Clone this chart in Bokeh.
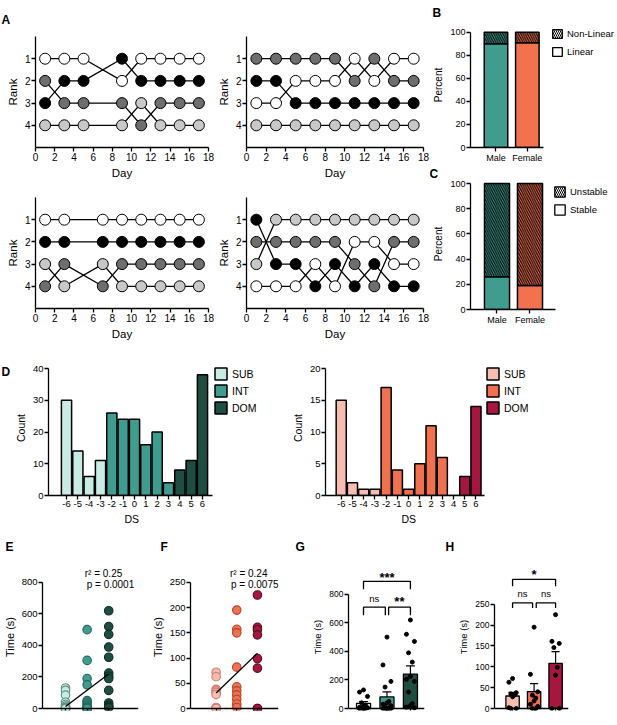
import numpy as np
from bokeh.plotting import figure
from bokeh.models import Range1d, FixedTicker, Label, Legend, LegendItem, Title
from bokeh.layouts import row, column
from bokeh.embed import file_html
from bokeh.resources import INLINE

FONT = "Liberation Sans"

# ---------------- data ----------------
A_DAY_TICKS = [0, 2, 4, 6, 8, 10, 12, 14, 16, 18]
A_RANK_TICKS = [1, 2, 3, 4]
A_FILLS = ["white", "black", "#6e6e6e", "#c8c8c8"]

A1_DAYS = [1, 3, 5, 9, 11, 13, 15, 17]
A1_WHITE = [1, 1, 1, 2, 1, 1, 1, 1]
A1_BLACK = [3, 2, 2, 1, 2, 2, 2, 2]
A1_DARK = [2, 3, 3, 3, 4, 3, 3, 3]
A1_LIGHT = [4, 4, 4, 4, 3, 4, 4, 4]

A2_DAYS = [1, 3, 5, 7, 9, 11, 13, 15, 17]
A2_WHITE = [3, 3, 2, 2, 2, 1, 2, 1, 1]
A2_BLACK = [2, 2, 3, 3, 3, 3, 3, 3, 3]
A2_DARK = [1, 1, 1, 1, 1, 2, 1, 2, 2]
A2_LIGHT = [4, 4, 4, 4, 4, 4, 4, 4, 4]

A3_DAYS = [1, 3, 7, 9, 11, 13, 15, 17]
A3_WHITE = [1, 1, 1, 1, 1, 1, 1, 1]
A3_BLACK = [2, 2, 2, 2, 2, 2, 2, 2]
A3_DARK = [4, 3, 4, 3, 3, 3, 3, 3]
A3_LIGHT = [3, 4, 3, 4, 4, 4, 4, 4]

A4_DAYS = [1, 3, 5, 7, 9, 11, 13, 15, 17]
A4_WHITE = [4, 4, 4, 3, 4, 2, 2, 3, 3]
A4_BLACK = [1, 3, 3, 4, 3, 4, 3, 4, 4]
A4_DARK = [2, 2, 2, 2, 2, 3, 4, 2, 2]
A4_LIGHT = [3, 1, 1, 1, 1, 1, 1, 1, 1]

SEXES = ["Male", "Female"]
SEX_X = [1, 2]
SEX_COLORS = ["#3f9c8f", "#f2714f"]
B_LINEAR = [90, 91]
B_NONLINEAR = [10, 9]
C_STABLE = [26, 19]
C_UNSTABLE = [74, 81]
PCT_TICKS = [0, 20, 40, 60, 80, 100]

DS = [-6, -5, -4, -3, -2, -1, 0, 1, 2, 3, 4, 5, 6]
DS_LABELS = ["-6", "-5", "-4", "-3", "-2", "-1", "0", "1", "2", "3", "4", "5", "6"]
D_MALE = [30, 14, 6, 11, 26, 24, 24, 16, 20, 4, 8, 11, 38]
D_FEMALE = [15, 2, 1, 1, 17, 4, 1, 5, 11, 6, 0, 3, 14]
DS_GROUPS = ["SUB", "SUB", "SUB", "SUB", "INT", "INT", "INT", "INT", "INT", "INT", "DOM", "DOM", "DOM"]
GROUPS = ["SUB", "INT", "DOM"]
GROUP_X = [1, 2, 3]
MALE_COLORS = ["#c8ebe3", "#3f9c8f", "#1e4d41"]
MALE_EDGES = ["#5f8f86", "#24665b", "#0f2b24"]
FEMALE_COLORS = ["#f7bdb1", "#f0714f", "#a5173f"]
FEMALE_EDGES = ["#d07c6a", "#b0452a", "#5e0b22"]

E_SUB = [130, 115, 85, 40, 25, 15, 8, 5, 2, 0, 0, 0]
E_INT = [500, 305, 190, 150, 50, 40, 30, 20, 10, 5, 2, 0, 0, 0, 0, 0]
E_DOM = [620, 520, 470, 390, 325, 225, 205, 190, 115, 35, 20, 10, 5]
F_SUB = [72, 63, 38, 35, 32, 28, 2, 0, 0]
F_INT = [195, 157, 150, 82, 43, 35, 27, 18, 9, 2]
F_DOM = [225, 161, 156, 146, 99, 80, 0, 0]
H_INT = [195, 82, 40, 32, 25, 18, 10, 5, 0, 0]
E_STATS = ["r\u00b2 = 0.25", "p = 0.0001"]
F_STATS = ["r\u00b2 = 0.24", "p = 0.0075"]
G_SIG = ["ns", "**", "***"]
H_SIG = ["ns", "ns", "*"]
JITTER = [0.0, -0.17, 0.17, -0.08, 0.08]


# ---------------- helpers ----------------
def base_fig(w, h, xr, yr, ml, mr, mt, mb):
    p = figure(width=w, height=h, x_range=xr, y_range=yr, output_backend="svg",
               toolbar_location=None, min_border_left=ml, min_border_right=mr,
               min_border_top=mt, min_border_bottom=mb)
    p.outline_line_color = None
    p.grid.visible = False
    p.background_fill_color = "white"
    p.border_fill_color = "white"
    for ax in p.axis:
        ax.axis_line_width = 1.3
        ax.axis_line_color = "black"
        ax.major_tick_line_width = 1.3
        ax.major_tick_line_color = "black"
        ax.major_tick_out = 4
        ax.major_tick_in = 0
        ax.minor_tick_line_color = None
        ax.major_label_standoff = 1
        ax.axis_label_standoff = 3
        ax.major_label_text_font = FONT
        ax.axis_label_text_font = FONT
        ax.axis_label_text_font_style = "normal"
        ax.major_label_text_color = "black"
        ax.axis_label_text_color = "black"
    return p


def fonts(p, tick_fs, lab_fs):
    for ax in p.axis:
        ax.major_label_text_font_size = tick_fs
        ax.axis_label_text_font_size = lab_fs


def set_standoff(t, s):
    try:
        t.standoff = s
    except Exception:
        pass


def ptitle(p, text, offset, standoff):
    p.title.text = text
    p.title.align = "left"
    p.title.offset = offset
    p.title.text_font = FONT
    p.title.text_font_size = "12px"
    p.title.text_font_style = "bold"
    p.title.text_color = "black"
    set_standoff(p.title, standoff)


def below_title(p, text, offset, fs, standoff):
    t = Title(text=text, align="left", offset=offset, text_font=FONT, text_font_size=fs,
              text_font_style="normal", text_color="black")
    set_standoff(t, standoff)
    p.add_layout(t, "below")


def make_legend(items, fs, gw, gh, spacing, loc):
    return Legend(items=items, location=loc, orientation="vertical",
                  glyph_width=gw, glyph_height=gh, label_height=gh, label_width=10,
                  spacing=spacing, padding=1, margin=0, label_standoff=4,
                  label_text_font=FONT, label_text_font_size=fs, label_text_color="black",
                  border_line_color=None, background_fill_alpha=0,
                  inactive_fill_alpha=0)


def rank_panel(w, h, ml, mr, mt, mb, days, series):
    p = base_fig(w, h, Range1d(0, 18), Range1d(5, 0), ml, mr, mt, mb)
    p.xaxis.ticker = FixedTicker(ticks=A_DAY_TICKS)
    p.yaxis.ticker = FixedTicker(ticks=A_RANK_TICKS)
    p.xaxis.axis_label = "Day"
    p.yaxis.axis_label = "Rank"
    fonts(p, "10px", "11.5px")
    for ranks in series:
        p.line(days, ranks, line_color="black", line_width=1.3)
    for ranks, c in zip(series, A_FILLS):
        p.scatter(days, ranks, size=11, fill_color=c, line_color="black", line_width=1)
    return p


def stack_panel(w, h, ml, mr, mt, mb, x0, ppu, xmax, ypx, low, high, low_name, high_name,
                bw, gw, gh, sp, loc):
    fw = w - ml - mr
    fh = h - mt - mb
    p = base_fig(w, h, Range1d(x0, x0 + fw / ppu), Range1d(0, 100 * fh / ypx), ml, mr, mt, mb)
    p.xaxis.bounds = (x0, xmax)
    p.yaxis.bounds = (0, 100)
    p.xaxis.ticker = FixedTicker(ticks=SEX_X)
    p.xaxis.major_label_overrides = {x: s for x, s in zip(SEX_X, SEXES)}
    p.yaxis.ticker = FixedTicker(ticks=PCT_TICKS)
    p.yaxis.axis_label = "Percent"
    fonts(p, "9px", "10px")
    tops = [a + b for a, b in zip(low, high)]
    p.vbar(x=SEX_X, bottom=0, top=low, width=bw, fill_color=SEX_COLORS,
           line_color="black", line_width=1.5)
    p.vbar(x=SEX_X, bottom=low, top=tops, width=bw, fill_color=SEX_COLORS,
           hatch_pattern="\\", hatch_color="black", hatch_scale=4.5, hatch_weight=1.1,
           line_color="black", line_width=1.5)
    r_hi = p.vbar(x=SEX_X, bottom=low, top=tops, width=bw, fill_color="white",
                  hatch_pattern="\\", hatch_color="black", hatch_scale=4,
                  hatch_weight=1.0, line_color="black", line_width=1.3, visible=False)
    r_lo = p.vbar(x=SEX_X, bottom=0, top=low, width=bw, fill_color="white",
                  line_color="black", line_width=1.3, visible=False)
    lg = make_legend([LegendItem(label=high_name, renderers=[r_hi]),
                      LegendItem(label=low_name, renderers=[r_lo])], "9.5px", gw, gh, sp, loc)
    p.add_layout(lg)
    return p


def hist_panel(w, h, ml, mr, mt, mb, x0, ppu, xmax, ymax, ypx, yticks, counts, colors, loc,
               ds_off):
    fw = w - ml - mr
    fh = h - mt - mb
    p = base_fig(w, h, Range1d(x0, x0 + fw / ppu), Range1d(0, ymax * fh / ypx), ml, mr, mt, mb)
    p.xaxis.bounds = (x0, xmax)
    p.yaxis.bounds = (0, ymax)
    p.xaxis.ticker = FixedTicker(ticks=DS)
    p.xaxis.major_label_overrides = {x: s for x, s in zip(DS, DS_LABELS)}
    p.yaxis.ticker = FixedTicker(ticks=yticks)
    p.yaxis.axis_label = "Count"
    fonts(p, "9.5px", "10.5px")
    below_title(p, "DS", ds_off, "10.5px", 3)
    items = []
    for g, c in zip(GROUPS, colors):
        xs = [x for x, gg in zip(DS, DS_GROUPS) if gg == g]
        ys = [v for v, gg in zip(counts, DS_GROUPS) if gg == g]
        r = p.vbar(x=xs, top=ys, bottom=0, width=0.9, fill_color=c,
                   line_color="black", line_width=1.5)
        items.append(LegendItem(label=g, renderers=[r]))
    p.add_layout(make_legend(items, "10.5px", 15, 15, 2, loc))
    return p


ROW_H = 197
MT = 35
MB = 14
FRAME_H = 148
ZERO_PX = 2


def bottom_fig(w, ml, mr, xr, top_val, top_px, yticks, tick_fs, lab_fs):
    scale = top_px / top_val
    yr = Range1d(-ZERO_PX / scale, (FRAME_H - ZERO_PX) / scale)
    p = base_fig(w, ROW_H, Range1d(*xr), yr, ml, mr, MT, MB)
    p.xaxis.fixed_location = 0
    p.xaxis.major_tick_out = 3
    p.yaxis.bounds = (0, top_val)
    p.xaxis.ticker = FixedTicker(ticks=GROUP_X)
    p.xaxis.major_label_overrides = {x: g for x, g in zip(GROUP_X, GROUPS)}
    p.yaxis.ticker = FixedTicker(ticks=yticks)
    p.yaxis.axis_label = "Time (s)"
    fonts(p, tick_fs, lab_fs)
    return p


def scatter_groups(p, datasets, fills, edges, stats, sx, sy):
    xs_all, ys_all = [], []
    for gx, d, f, e in zip(GROUP_X, datasets, fills, edges):
        p.scatter([gx] * len(d), d, size=8.5, fill_color=f, line_color=e, line_width=1.1)
        xs_all += [gx] * len(d)
        ys_all += list(d)
    k, b = np.polyfit(xs_all, ys_all, 1)
    p.line([GROUP_X[0], GROUP_X[-1]], [k * GROUP_X[0] + b, k * GROUP_X[-1] + b],
           line_color="black", line_width=1.3)
    for t, x, y in zip(stats, sx, sy):
        p.add_layout(Label(x=x, y=y, text=t, text_font=FONT, text_font_size="10px",
                           text_align="left", text_baseline="middle", text_color="black"))


def bar_groups(p, datasets, fills, bw, cap):
    means = [float(np.mean(d)) for d in datasets]
    sems = [float(np.std(d, ddof=1) / np.sqrt(len(d))) for d in datasets]
    ups = [m + s for m, s in zip(means, sems)]
    p.vbar(x=GROUP_X, top=means, bottom=0, width=bw, fill_color=fills,
           line_color="black", line_width=1.3)
    p.segment(x0=GROUP_X, y0=means, x1=GROUP_X, y1=ups, line_color="black", line_width=1.2)
    p.segment(x0=[x - cap for x in GROUP_X], y0=ups, x1=[x + cap for x in GROUP_X], y1=ups,
              line_color="black", line_width=1.2)
    for gx, d in zip(GROUP_X, datasets):
        jx = [gx + JITTER[i % len(JITTER)] for i in range(len(d))]
        p.scatter(jx, d, size=4, fill_color="black", line_color="black")


def bracket(p, x0, x1, yb, yt):
    p.line([x0, x0, x1, x1], [yb, yt, yt, yb], line_color="black", line_width=1.3)


def sig(p, x, y, t):
    star = t.startswith("*")
    p.add_layout(Label(x=x, y=y, text=t, text_font=FONT,
                       text_font_size="13px" if star else "9.5px",
                       text_font_style="bold" if star else "normal",
                       text_align="center", text_baseline="middle", text_color="black"))


# ---------------- Panel A ----------------
A1 = rank_panel(214, 182, 35, 6, 35, 35, A1_DAYS, [A1_WHITE, A1_BLACK, A1_DARK, A1_LIGHT])
A2 = rank_panel(216, 182, 30, 7, 35, 35, A2_DAYS, [A2_WHITE, A2_BLACK, A2_DARK, A2_LIGHT])
A3 = rank_panel(214, 163, 35, 6, 15, 37, A3_DAYS, [A3_WHITE, A3_BLACK, A3_DARK, A3_LIGHT])
A4 = rank_panel(216, 163, 30, 7, 15, 37, A4_DAYS, [A4_WHITE, A4_BLACK, A4_DARK, A4_LIGHT])
ptitle(A1, "A", -34, 20)

# ---------------- Panels B, C ----------------
B = stack_panel(186, 165, 37, 0, 20, 18, 0.1875, 32.0, 2.53, 117, B_LINEAR, B_NONLINEAR,
                "Linear", "Non-Linear", 0.75, 12, 11, 7, (81, 90))
C = stack_panel(186, 180, 40, 0, 13, 36, 0.197, 33.0, 2.77, 126, C_STABLE, C_UNSTABLE,
                "Stable", "Unstable", 0.76, 13, 13, 5, (83, 93))
ptitle(B, "B", -38, 6)
ptitle(C, "C", -41, -5)

# ---------------- Panel D ----------------
D1 = hist_panel(288, 182, 48, 23, 15, 32, -7.59, 11.33, 6.88, 40, 127, [0, 10, 20, 30, 40],
                D_MALE, MALE_COLORS, (165, 80), 76)
D2 = hist_panel(328, 182, 33, 55, 15, 32, -7.4, 11.42, 6.79, 20, 127, [0, 5, 10, 15, 20],
                D_FEMALE, FEMALE_COLORS, (160, 80), 76)
ptitle(D1, "D", -47, -36)

# ---------------- Panels E-H ----------------
E = bottom_fig(148, 38, 10, (-0.067, 4.38), 800, 127, [0, 200, 400, 600, 800], "9.5px", "11px")
scatter_groups(E, [E_SUB, E_INT, E_DOM], MALE_COLORS, MALE_EDGES, E_STATS, [1.89, 1.98], [857, 787])
ptitle(E, "E", -37, 20)

F = bottom_fig(147, 34, 17, (-0.24, 4.02), 250, 127, [0, 50, 100, 150, 200, 250], "9.5px", "11px")
scatter_groups(F, [F_SUB, F_INT, F_DOM], FEMALE_COLORS, FEMALE_EDGES, F_STATS, [1.67, 1.72], [268, 246])
ptitle(F, "F", -30, 20)

G = bottom_fig(150, 53, 21, (0.36, 3.6), 800, 115, [0, 200, 400, 600, 800], "8.5px", "9.5px")
bar_groups(G, [E_SUB, E_INT, E_DOM], MALE_COLORS, 0.6, 0.19)
bracket(G, 1, 1.93, 654, 710)
bracket(G, 2.07, 3, 654, 710)
bracket(G, 1, 3, 835, 890)
sig(G, 1.46, 772, G_SIG[0])
sig(G, 2.53, 751, G_SIG[1])
sig(G, 2.0, 918, G_SIG[2])
ptitle(G, "G", -53, 20)

H = bottom_fig(171, 49, 48, (0.16, 3.6), 250, 105, [0, 50, 100, 150, 200, 250], "8.5px", "9.5px")
bar_groups(H, [F_SUB, H_INT, F_DOM], FEMALE_COLORS, 0.62, 0.19)
bracket(H, 1, 1.93, 241, 253)
bracket(H, 2.1, 3, 241, 253)
bracket(H, 1, 3, 293, 309.5)
sig(H, 1.46, 276, H_SIG[0])
sig(H, 2.55, 276, H_SIG[1])
sig(H, 2.0, 321, H_SIG[2])
ptitle(H, "H", -49, 20)

layout = column(
    row(column(row(A1, A2), row(A3, A4)), column(B, C)),
    row(D1, D2),
    row(E, F, G, H),
)

open("out.html", "w").write(file_html(layout, INLINE))
